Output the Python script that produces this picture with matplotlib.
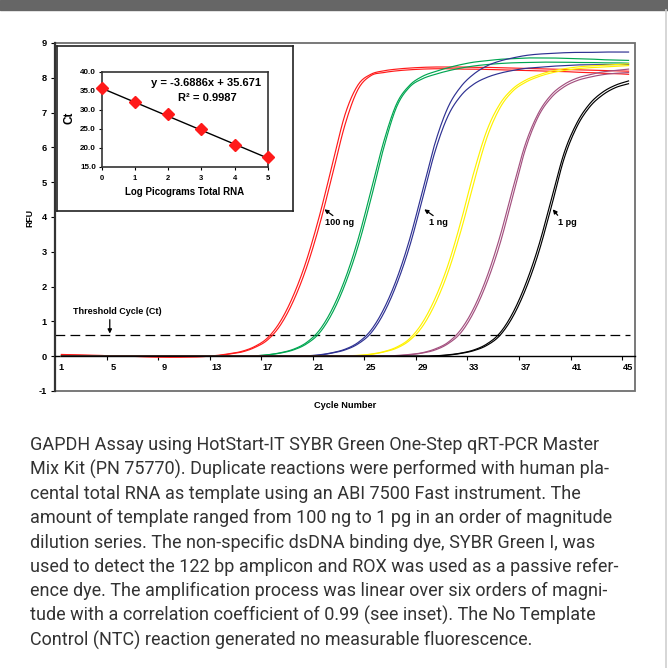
"""GAPDH qRT-PCR amplification plot with standard-curve inset."""

import matplotlib

matplotlib.use("Agg")
import matplotlib.pyplot as plt
import numpy as np
from matplotlib.lines import Line2D
from matplotlib.patches import Rectangle

plt.rcParams["font.family"] = ["Liberation Sans", "DejaVu Sans"]

# ---- data ----
cycles = list(range(1, 46))

red_a = [0.05, 0.04, 0.03, 0.02, 0.01, 0.0, -0.01, -0.02, -0.02, -0.02, -0.02, -0.01,
         0.02, 0.07, 0.14, 0.28, 0.53, 1.01, 1.75, 2.74, 4.01, 5.48, 6.94, 7.79, 8.10,
         8.20, 8.25, 8.28, 8.30, 8.31, 8.31, 8.31, 8.30, 8.30, 8.29, 8.28, 8.27, 8.26,
         8.25, 8.24, 8.23, 8.22, 8.21, 8.20, 8.19]
red_b = [0.04, 0.03, 0.02, 0.02, 0.01, 0.0, -0.01, -0.02, -0.03, -0.03, -0.02, -0.01,
         0.01, 0.06, 0.12, 0.25, 0.47, 0.90, 1.59, 2.53, 3.74, 5.18, 6.65, 7.66, 8.06,
         8.15, 8.20, 8.23, 8.25, 8.26, 8.26, 8.25, 8.25, 8.24, 8.23, 8.22, 8.21, 8.20,
         8.19, 8.18, 8.16, 8.15, 8.13, 8.12, 8.10]
green_a = [0.0] * 15 + [0.01, 0.04, 0.10, 0.20, 0.39, 0.74, 1.35, 2.21, 3.34, 4.73,
                        6.16, 7.25, 7.78, 8.04, 8.18, 8.29, 8.38, 8.45, 8.49, 8.53,
                        8.55, 8.57, 8.57, 8.57, 8.56, 8.55, 8.54, 8.52, 8.51, 8.50]
green_b = [0.0] * 15 + [0.01, 0.04, 0.09, 0.18, 0.35, 0.66, 1.23, 2.06, 3.14, 4.50,
                        5.98, 7.16, 7.73, 7.97, 8.10, 8.20, 8.28, 8.34, 8.38, 8.41,
                        8.43, 8.44, 8.45, 8.45, 8.45, 8.44, 8.44, 8.43, 8.43, 8.42]
blue_a = [0.0] * 19 + [0.01, 0.04, 0.10, 0.20, 0.39, 0.74, 1.35, 2.21, 3.34, 4.73,
                       6.14, 7.16, 7.75, 8.11, 8.34, 8.48, 8.57, 8.64, 8.68, 8.70,
                       8.72, 8.73, 8.73, 8.74, 8.74, 8.74]
blue_b = [0.0] * 19 + [0.01, 0.03, 0.09, 0.18, 0.35, 0.66, 1.23, 2.06, 3.14, 4.50,
                       5.90, 6.91, 7.49, 7.82, 8.01, 8.13, 8.21, 8.27, 8.30, 8.33,
                       8.35, 8.37, 8.37, 8.38, 8.38, 8.38]
yellow_a = [0.0] * 22 + [0.01, 0.02, 0.06, 0.13, 0.26, 0.50, 0.96, 1.67, 2.63, 3.88,
                         5.29, 6.48, 7.24, 7.68, 7.93, 8.08, 8.19, 8.26, 8.31, 8.34,
                         8.36, 8.38, 8.40]
yellow_b = [0.0] * 22 + [0.0, 0.02, 0.05, 0.12, 0.23, 0.45, 0.85, 1.51, 2.42, 3.61,
                         5.00, 6.27, 7.12, 7.61, 7.87, 8.03, 8.14, 8.21, 8.26, 8.29,
                         8.31, 8.33, 8.35]
plum_a = [0.0] * 26 + [0.02, 0.05, 0.10, 0.21, 0.40, 0.77, 1.39, 2.27, 3.41, 4.79,
                       6.10, 6.98, 7.51, 7.81, 7.99, 8.09, 8.17, 8.21, 8.25]
plum_b = [0.0] * 26 + [0.01, 0.04, 0.09, 0.18, 0.36, 0.68, 1.27, 2.11, 3.20, 4.57,
                       5.95, 6.89, 7.43, 7.74, 7.92, 8.02, 8.09, 8.13, 8.15]
black_a = [0.0] * 29 + [0.01, 0.04, 0.09, 0.18, 0.35, 0.66, 1.23, 2.06, 3.14, 4.49,
                        5.84, 6.71, 7.26, 7.59, 7.79, 7.91]
black_b = [0.0] * 29 + [0.01, 0.03, 0.08, 0.16, 0.31, 0.59, 1.12, 1.91, 2.95, 4.28,
                        5.68, 6.60, 7.17, 7.51, 7.72, 7.83]

series = [
    (red_a, "#ff1a1a"), (red_b, "#ff1a1a"),
    (green_a, "#00a651"), (green_b, "#00a651"),
    (blue_a, "#2e3192"), (blue_b, "#2e3192"),
    (yellow_a, "#fff200"), (yellow_b, "#fff200"),
    (plum_a, "#a3507f"), (plum_b, "#a3507f"),
    (black_a, "#000000"), (black_b, "#000000"),
]

threshold = 0.6
x_labels = list(range(1, 46, 4))
y_ticks = list(range(-1, 10))

# standard curve inset
log_pg = [0, 1, 2, 3, 4, 5]
ct_vals = [35.6, 32.0, 28.8, 24.8, 20.7, 17.5]
fit_slope, fit_intercept = -3.6886, 35.671
r_squared = 0.9987

# (label, arrow tip, arrow tail, text position) in cycle / RFU units
callouts = [
    ("100 ng", (21.4, 4.22), (22.06, 4.04), (21.47, 3.83)),
    ("1 ng", (29.15, 4.22), (29.84, 4.04), (29.55, 3.83)),
    ("1 pg", (39.12, 4.22), (39.5, 4.05), (39.5, 3.83)),
]

caption = [
    "GAPDH Assay using HotStart-IT SYBR Green One-Step qRT-PCR Master",
    "Mix Kit (PN 75770). Duplicate reactions were performed with human pla-",
    "cental total RNA as template using an ABI 7500 Fast instrument. The",
    "amount of template ranged from 100 ng to 1 pg in an order of magnitude",
    "dilution series. The non-specific dsDNA binding dye, SYBR Green I, was",
    "used to detect the 122 bp amplicon and ROX was used as a passive refer-",
    "ence dye. The amplification process was linear over six orders of magni-",
    "tude with a correlation coefficient of 0.99 (see inset). The No Template",
    "Control (NTC) reaction generated no measurable fluorescence.",
]


def smooth(x, y, n=12):
    """Catmull-Rom smoothing, like Excel's smoothed line."""
    x = np.asarray(x, float)
    y = np.asarray(y, float)

    def spline(p):
        p = np.concatenate([[2 * p[0] - p[1]], p, [2 * p[-1] - p[-2]]])
        p0, p1, p2, p3 = p[:-3], p[1:-2], p[2:-1], p[3:]
        t = np.linspace(0, 1, n, endpoint=False)[:, None]
        out = 0.5 * (2 * p1 + (-p0 + p2) * t + (2 * p0 - 5 * p1 + 4 * p2 - p3) * t**2
                     + (-p0 + 3 * p1 - 3 * p2 + p3) * t**3)
        return np.append(out.T.ravel(), p[-2])

    return spline(x), spline(y)


W = H = 668.0
fig = plt.figure(figsize=(6.68, 6.68), dpi=100)

# page decorations
fig.patches.append(Rectangle((0, 1 - 9.5 / H), 1, 9.5 / H, transform=fig.transFigure,
                             color="#666666", zorder=0))
fig.lines.append(Line2D([666 / W, 666 / W], [0, 1 - 9.5 / H], transform=fig.transFigure,
                        color="#cfcfcf", lw=1.2))

# ---- main amplification plot ----
ax = fig.add_axes([55 / W, 1 - 391 / H, 580 / W, 348 / H])
ax.set_xlim(0.5, 45.5)
ax.set_ylim(-1, 9)

for vals, col in series:
    sx, sy = smooth(cycles, vals)
    ax.plot(sx, sy, color=col, lw=0.85, zorder=3)

ax.hlines(threshold, 0.5, 45.1, colors="black", lw=0.9, linestyles=(0, (7.8, 4.2)), zorder=2)

for sp in ("top", "right"):
    ax.spines[sp].set_visible(False)
ax.add_patch(Rectangle((0, 0), 1, 1, transform=ax.transAxes, fill=False,
                       ec="#6e6e6e", lw=1.3, clip_on=False, zorder=1))
ax.spines["left"].set_color("#333333")
ax.spines["left"].set_linewidth(1.6)
ax.spines["bottom"].set_position(("data", 0))
ax.spines["bottom"].set_color("black")
ax.spines["bottom"].set_linewidth(1.0)

ax.set_xticks(np.arange(4.5, 45, 4))
ax.set_xticklabels([])
ax.set_xticks(x_labels, minor=True)
ax.set_xticklabels([str(v) for v in x_labels], minor=True, fontweight="bold", fontsize=6.7)
ax.tick_params(axis="x", which="major", length=3, width=0.8, direction="out")
ax.tick_params(axis="x", which="minor", length=0, pad=5)
ax.set_yticks(y_ticks)
ax.set_yticklabels([str(v) for v in y_ticks], fontweight="bold", fontsize=6.7)
ax.tick_params(axis="y", length=3, width=0.8, pad=3)

ax.text(0.5, -15 / 348, "Cycle Number", transform=ax.transAxes, ha="center", va="center",
        fontsize=6.7, fontweight="bold")
ax.text(-25 / 580, 173 / 348, "RFU", transform=ax.transAxes, ha="center", va="center",
        rotation=90, fontsize=6.3, fontweight="bold")

ax.text(1.93, 1.29, "Threshold Cycle (Ct)", ha="left", va="center", fontsize=6.5,
        fontweight="bold")
ax.annotate("", xy=(4.75, 0.65), xytext=(4.75, 1.05),
            arrowprops=dict(arrowstyle="-|>", color="black", lw=0.9, mutation_scale=6,
                            shrinkA=0, shrinkB=0))

for label, tip, tail, pos in callouts:
    ax.annotate("", xy=tip, xytext=tail,
                arrowprops=dict(arrowstyle="-|>", color="black", lw=0.9, mutation_scale=6,
                                shrinkA=0, shrinkB=0))
    ax.text(pos[0], pos[1], label, ha="left", va="center", fontsize=6.6, fontweight="bold")

# ---- inset ----
box = fig.add_axes([57 / W, 1 - 211 / H, 236 / W, 165 / H])
box.set_xticks([])
box.set_yticks([])
for sp in box.spines.values():
    sp.set_color("#222222")
    sp.set_linewidth(1.2)

ins = fig.add_axes([101.5 / W, 1 - 166.7 / H, 166.5 / W, 95 / H])
ins.set_xlim(0, 5)
ins.set_ylim(15, 40)
line_x = np.array([log_pg[0], log_pg[-1]], float)
ins.plot(line_x, fit_slope * line_x + fit_intercept, color="black", lw=1.0, zorder=2)
ins.plot(log_pg, ct_vals, ls="none", marker="D", ms=6.5, color="#ff1a1a",
         mec="#ff1a1a", clip_on=False, zorder=3)
for sp in ins.spines.values():
    sp.set_color("#333333")
    sp.set_linewidth(1.2)
ins.set_xticks(log_pg)
ins.set_xticklabels([str(v) for v in log_pg], fontsize=5.5, fontweight="bold")
ins.set_yticks(range(15, 41, 5))
ins.set_yticklabels([f"{v:.1f}" for v in range(15, 41, 5)], fontsize=5.8, fontweight="bold")
ins.tick_params(length=2, width=0.8, pad=2)
ins.tick_params(axis="x", pad=4)
ins.text(-0.19, 0.51, "Ct", transform=ins.transAxes, rotation=90, ha="center",
         va="center", fontsize=8.5, fontweight="bold")
ins.text(0.5, -0.266, "Log Picograms Total RNA", transform=ins.transAxes, ha="center",
         va="center", fontsize=7, fontweight="bold")
ins.text(0.628, 0.881, f"y = {fit_slope}x + {fit_intercept}", transform=ins.transAxes,
         ha="center", va="center", fontsize=8, fontweight="bold")
ins.text(0.634, 0.723, f"R\u00b2 = {r_squared}", transform=ins.transAxes,
         ha="center", va="center", fontsize=8, fontweight="bold")

# ---- caption ----
cap_texts = []
for i, line in enumerate(caption):
    y = 445 + i * 24.4
    cap_texts.append(fig.text(30 / W, 1 - y / H, line, ha="left", va="center",
                              fontsize=12, family=["Roboto", "DejaVu Sans"],
                              fontweight="normal", color="#333333"))

# fit caption size so the widest line spans ~581 px like the original
fig.canvas.draw()
r = fig.canvas.get_renderer()
w = cap_texts[3].get_window_extent(r).width
for t in cap_texts:
    t.set_fontsize(12 * 581 / w)

fig.savefig("out.png", dpi=100)
